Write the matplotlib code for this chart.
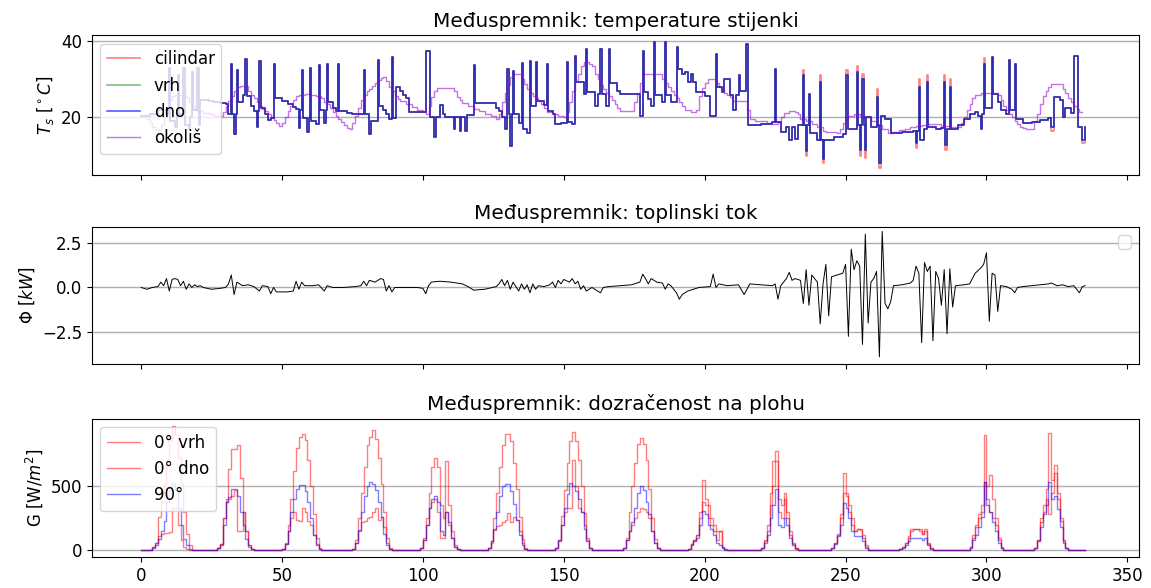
import numpy as np
import matplotlib.pyplot as plt

# --- satni podaci (h) ---
n_hours = 336

# temperatura stijenke dno/vrh: (sat, T) stepenasto, kratki skokovi
t_dno_knots = [
    (0, 20.5), (3, 21), (6, 22), (9, 21), (10, 33), (10.4, 19), (12, 17.5), (12.6, 21), (13, 31),
    (13.4, 21), (15, 33), (15.4, 18), (17, 17), (17.5, 20), (18, 32), (18.4, 22), (20, 33),
    (20.4, 18), (21, 24.5), (24, 24.2), (26, 24), (28, 23.7), (30, 23.4), (31, 21), (31.8, 34),
    (32.2, 21), (33, 15.8), (33.5, 21), (34, 32.3), (34.4, 24), (36, 26), (37, 35.3), (37.4, 25.5),
    (39, 23), (40, 21.8), (41, 17.4), (41.5, 21.8), (42, 34.9), (42.4, 22.5), (44, 21), (45, 19.3),
    (46, 19.8), (47, 34), (47.4, 25), (50, 24.3), (52, 23.5), (54, 22.8), (55, 22.3), (56, 17.2),
    (56.5, 22), (57, 32.3), (57.4, 19.8), (59, 16.3), (59.5, 19.8), (60, 33), (60.4, 19),
    (62, 18.3), (63, 33.6), (63.4, 22), (65, 18.5), (65.5, 22), (66, 34), (66.4, 24), (68, 22.5),
    (69, 21.6), (70, 34), (70.4, 21.6), (73, 21.2), (75, 21), (77, 20.8), (79, 32.3), (79.4, 21),
    (81, 15.8), (81.5, 19), (84, 35), (84.4, 23), (86, 22), (87, 21), (88, 19.5), (89, 35.8),
    (89.4, 19.8), (90.5, 28), (92, 27), (93, 26), (94, 25.1), (95, 21.4), (101, 37.5),
    (102.6, 20.2), (104, 15), (104.6, 20.2), (106, 23.3), (107, 21), (108, 20), (111, 17),
    (111.5, 20), (113, 16.5), (113.5, 20), (115, 16.5), (115.5, 20.6), (118, 33.6), (118.4, 23.9),
    (126, 22.5), (127, 21.7), (128, 20), (129, 17), (130, 32.6), (130.4, 21), (131, 12.5),
    (131.5, 21), (132, 32.2), (132.4, 21), (134, 18.5), (135, 34.3), (135.4, 17), (137, 16),
    (138, 34.7), (138.4, 23), (140, 34.5), (140.4, 24.4), (143, 23.3), (144, 34), (144.4, 21.8),
    (146, 21), (147, 18.3), (149, 18.5), (151, 34.5), (151.4, 18.7), (153, 18.3), (154, 36.2),
    (154.4, 29.4), (157, 26.2), (158, 37.9), (158.4, 26.6), (161, 23), (162, 26.2), (163, 37.9),
    (163.4, 26.2), (165, 23), (166, 37.9), (166.4, 28.9), (169, 27), (170, 26.2), (177, 20.4),
    (178, 37.5), (178.4, 26.6), (180, 24.9), (181, 23), (182, 39.7), (182.4, 25.8), (185, 24),
    (186, 39.7), (186.4, 26), (188, 24), (190, 38.4), (190.4, 32.7), (192, 31.3), (193, 31.9),
    (194, 29.3), (195, 31.5), (196, 29.3), (197, 26.6), (200, 25.5), (202, 20.4), (204, 36.6),
    (204.4, 28), (206, 26.6), (207, 30.1), (209, 26), (210, 22), (211, 26), (212, 31),
    (212.4, 27), (214.5, 39.3), (215.5, 18), (220, 18.2), (224, 18.7), (225, 32.6), (225.4, 18.7),
    (227, 16.1), (229, 17.4), (230, 14), (231, 17.4), (232, 14.5), (233, 18), (235, 31),
    (235.4, 18), (236, 11.2), (236.4, 18), (237, 26.2), (237.4, 16), (240, 14), (241, 29.3),
    (241.4, 14), (242, 9.1), (242.4, 14), (246, 14.8), (249, 15.6), (250, 31), (251, 16.9),
    (254, 32), (254.4, 18), (255, 11.6), (255.4, 18), (256, 30), (256.4, 18), (257, 11.6),
    (257.4, 20), (259, 17.5), (261, 25.3), (261.4, 18), (262, 8.2), (262.4, 20.5), (264, 19.5),
    (266, 16), (270, 16.2), (274, 16.4), (275, 13.2), (275.5, 16.4), (276, 28.1), (276.4, 14),
    (278, 17), (279, 29.4), (279.4, 17.5), (282, 17), (284, 17.2), (285, 29.2), (285.4, 12.7),
    (286, 17), (287, 28.1), (287.4, 17), (290, 18), (292, 19.5), (294, 21), (296, 21.5),
    (297, 20.5), (298, 17), (298.5, 21), (299, 34), (299.4, 22.5), (302, 35.8), (302.4, 26.2),
    (304, 24), (305, 22), (307, 21), (308, 35), (308.4, 22), (310, 34), (310.4, 19.5), (313, 18.5),
    (316, 18.7), (319, 19.3), (322, 19.8), (323, 17.4), (324, 25.3), (326, 24.5), (327, 20),
    (328, 22.5), (330, 21.1), (331, 36.2), (332.5, 17.4), (334, 14), (335, 17.4),
]
# cilindar se razlikuje samo u ekstremima
t_cil_tips = {235: 32.5, 236: 10, 241: 31, 242: 8, 250: 32.5, 254: 33.5, 255: 10, 256: 31.5,
              257: 9.5, 261: 27.5, 262: 6.8, 275: 12, 276: 30, 279: 31, 285: 31, 285.4: 11.5,
              287: 30, 299: 35.5, 323: 16.5, 334: 13.2}

t_okolis_knots = [
    (0, 20.5), (2, 19.5), (3, 18.5), (4, 17.5), (5, 16.8), (6, 16.6), (7, 18), (8, 20), (9, 22.5),
    (10, 24.5), (11, 25.5), (12, 26), (16, 25.3), (17, 24), (18, 23), (19, 22.3), (20, 21.8),
    (22, 21.3), (24, 20.8), (26, 20.3), (28, 20.5), (29, 21.5), (30, 23), (31, 24.4), (32, 25.5),
    (33, 27), (34, 28), (35, 28.3), (38, 27), (39, 26), (40, 25), (41, 24), (42, 23), (43, 22.3),
    (44, 21.8), (45, 20.8), (46, 20), (47, 19.3), (48, 18.5), (49, 17.9), (50, 18.5), (51, 20),
    (52, 21.8), (53, 23), (54, 24.5), (55, 25.5), (56, 26), (58, 26.2), (60, 25.8), (62, 25.5),
    (64, 25.2), (65, 24), (66, 23.5), (67, 22.5), (68, 21.5), (69, 20.5), (70, 19.5), (71, 18.8),
    (72, 18), (73, 17.3), (74, 17), (75, 18.5), (76, 20.5), (77, 22.5), (78, 24.5), (79, 26),
    (80, 26.8), (81, 27.5), (82, 28.3), (83, 29), (84, 29.8), (85, 30.3), (86, 30.7), (87, 29.5),
    (88, 28), (89, 26.8), (90, 25.5), (91, 24.8), (92, 24.4), (94, 23.5), (96, 22.8), (98, 22),
    (100, 21.5), (101, 21), (102, 23), (103, 25.3), (104, 27), (105, 27.8), (111, 27), (112, 25.3),
    (113, 24.5), (114, 23.8), (116, 23), (118, 22.3), (120, 21.8), (122, 21), (124, 20.3),
    (126, 19.6), (127, 21), (128, 24), (129, 26.5), (130, 28.5), (131, 30.5), (132, 31.3),
    (135, 30), (136, 28.8), (137, 27.5), (138, 26.5), (139, 25.5), (140, 25), (141, 24.3),
    (142, 23.5), (143, 22.6), (144, 21.5), (146, 20.9), (148, 20.5), (150, 20), (151, 21.5),
    (152, 24), (153, 27), (154, 29.5), (155, 31.5), (156, 33.5), (157, 34.4), (159, 34),
    (160, 33.5), (161, 31.5), (162, 30), (163, 28.5), (164, 27.5), (165, 26.5), (166, 25.5),
    (167, 24.5), (168, 23.5), (169, 22.6), (170, 21.8), (175, 24), (176, 26.5), (177, 29),
    (178, 31.3), (185, 30), (186, 29), (187, 28), (188, 27), (189, 26), (190, 25), (191, 24),
    (192, 23), (193, 22), (195, 21.5), (197, 22), (198, 25.5), (199, 27.8), (200, 29), (201, 30),
    (204, 29), (205, 28), (206, 27.5), (207, 26.5), (208, 26), (209, 25.3), (210, 24.4),
    (215, 22), (216, 19.6), (218, 19), (222, 18.5), (224, 18.3), (226, 18.8), (227, 20),
    (228, 21.3), (230, 21.8), (232, 21.5), (233, 21), (234, 19.6), (236, 19), (238, 18.3),
    (240, 17.5), (242, 16.5), (243, 16.1), (247, 16), (248, 17), (249, 18.5), (250, 19.5),
    (251, 20.3), (253, 21), (255, 20.5), (257, 20), (259, 19), (261, 18), (263, 17), (265, 16),
    (267, 16.2), (269, 16.6), (271, 17), (273, 17.4), (275, 17.7), (277, 18), (279, 18.4),
    (281, 18.2), (284, 17.8), (287, 17.5), (290, 17.4), (291, 18.5), (292, 20), (293, 22),
    (294, 23.5), (295, 25), (296, 26), (298, 26.3), (300, 26.5), (302, 26.3), (304, 26),
    (305, 24.5), (306, 23), (307, 22), (308, 21), (309, 20), (310, 19), (311, 18.3), (312, 17.6),
    (313, 17.2), (314, 16.9), (317, 19), (318, 21), (319, 23.5), (320, 25.5), (321, 27), (322, 28),
    (323, 28.8), (327, 27.5), (328, 26.4), (329, 25), (330, 24), (331, 23), (332, 22.3),
    (333, 21.5), (334, 21.5),
]

# toplinski tok (sat, kW)
flux_knots = [
    (0, 0), (2, -0.1), (4, 0), (6, 0.05), (7, 0.3), (8, 0.1), (9, 0.5), (10, -0.2), (11, 0.45),
    (12, 0.5), (13, 0.45), (14, 0.1), (15, 0.35), (16, -0.1), (17, 0.2), (18, 0), (19, 0.15),
    (20, 0.05), (21, 0.1), (22, 0), (25, -0.1), (28, -0.05), (30, 0), (31, 0.2), (32, 0.7),
    (33, -0.4), (34, 0.3), (35, 0.2), (36, 0.1), (38, 0.15), (40, 0.05), (42, -0.2), (43, 0.1),
    (45, 0.05), (46, -0.35), (47, 0), (48, -0.25), (52, -0.25), (54, -0.2), (55, 0.35),
    (56, -0.1), (57, 0.3), (58, 0.1), (61, 0.1), (63, 0.15), (65, -0.2), (66, 0.1), (68, 0),
    (72, 0), (76, 0.05), (78, 0.1), (79, 0.35), (80, 0.1), (81, 0.4), (83, 0.3), (85, 0.5),
    (86, 0.45), (87, -0.2), (88, 0.1), (89, -0.25), (90, 0), (94, 0), (98, 0), (100, -0.05),
    (101, -0.35), (102, 0.1), (103, 0.3), (106, 0.35), (110, 0.3), (114, 0.2), (116, 0.05),
    (118, -0.15), (122, -0.1), (126, 0.05), (127, 0.2), (128, 0.45), (129, 0.1), (130, 0.4),
    (131, -0.1), (132, 0.3), (134, -0.2), (135, 0.2), (136, -0.1), (137, 0.15), (138, -0.3),
    (139, 0.2), (140, -0.1), (141, 0.1), (143, 0.05), (145, 0.15), (146, 0.3), (147, 0),
    (148, 0.4), (149, 0.2), (150, 0.45), (152, 0.3), (153, 0.5), (154, 0.2), (155, 0.35),
    (156, -0.1), (157, 0.1), (158, -0.2), (160, 0), (163, -0.3), (164, 0), (166, 0.05),
    (170, 0.1), (174, 0.15), (177, 0.3), (178, 0.75), (179, 0.5), (180, 0.2), (181, 0.5),
    (183, 0.3), (185, 0.25), (186, -0.1), (187, 0.2), (188, 0.1), (190, -0.3), (191, -0.66),
    (192, -0.4), (194, -0.2), (198, 0), (202, 0.05), (203, 0.75), (204, 0), (205, 0.2),
    (208, 0.1), (212, 0.15), (214, -0.4), (215, -0.1), (216, 0.2), (220, 0.15), (224, 0.1),
    (225, 0.2), (226, -0.66), (227, 0.1), (229, 0.5), (230, 0.85), (231, 0.4), (232, 0.5),
    (234, 0.4), (235, -0.9), (236, 1.0), (237, -1.0), (238, 0.7), (239, 0.5), (240, 0.3),
    (241, -2.05), (242, 0.2), (243, 1.3), (244, -1.6), (245, 0.6), (247, 0.7), (249, 0.8),
    (250, 1.3), (251, -2.75), (252, 2.15), (253, 1.0), (254, 1.5), (255, 1.2), (256, -3.2),
    (257, 3.0), (258, -2.0), (259, 0.3), (260, 0.5), (261, 0.9), (262, -3.9), (263, 3.15),
    (264, -0.9), (265, -1.2), (266, -0.8), (267, 0.1), (270, 0.15), (273, 0.25), (274, 0.4),
    (275, 1.2), (276, 0.8), (277, -3.1), (278, 1.4), (279, 0.9), (280, 1.2), (281, -3.0),
    (282, 0.9), (283, 0.5), (284, -1.0), (285, 1.0), (286, -2.6), (287, 1.05), (288, -1.1),
    (289, 0.1), (292, 0.15), (294, 0.2), (296, 0.8), (298, 1.1), (299, 1.3), (300, 1.95),
    (301, -1.9), (302, 0.8), (303, 0.7), (304, -1.35), (305, 0.1), (307, 0.05), (309, -0.1),
    (310, -0.3), (311, 0), (313, 0.05), (316, 0.1), (319, 0.15), (322, 0.2), (323, 0.25),
    (325, 0.1), (327, 0.15), (329, 0.05), (331, 0.1), (333, -0.3), (334, 0.05), (335, 0.1),
]

# dozracenost po danima (W/m2), satne vrijednosti od day_start
day_start = [3, 26, 49, 74, 98, 122, 146, 170, 193, 219, 244, 268, 293, 316]
g_vrh_days = [
    [0, 30, 60, 260, 380, 520, 700, 850, 970, 900, 720, 520, 300, 130, 40, 0],
    [0, 20, 50, 250, 400, 630, 790, 790, 820, 560, 300, 150, 40, 10, 0, 0],
    [0, 10, 60, 200, 400, 620, 800, 880, 909, 860, 700, 500, 280, 100, 20, 0],
    [0, 10, 80, 250, 450, 650, 820, 880, 935, 870, 720, 520, 300, 100, 20, 0],
    [0, 20, 100, 250, 450, 650, 721, 650, 350, 250, 695, 350, 150, 40, 10, 0],
    [0, 20, 70, 250, 450, 650, 820, 909, 909, 850, 680, 480, 260, 90, 20, 0],
    [0, 20, 80, 270, 470, 680, 850, 924, 850, 700, 500, 290, 100, 20, 0, 0],
    [0, 20, 100, 300, 500, 680, 825, 877, 825, 700, 480, 250, 90, 20, 0, 0],
    [0, 10, 50, 80, 120, 300, 550, 400, 350, 250, 200, 150, 150, 30, 10, 0],
    [0, 20, 80, 200, 450, 694, 773, 400, 350, 445, 300, 150, 60, 20, 0, 0],
    [0, 20, 60, 130, 280, 603, 450, 350, 250, 150, 170, 170, 120, 40, 0, 0],
    [0, 10, 30, 60, 110, 170, 170, 170, 170, 130, 170, 60, 20, 0, 0, 0],
    [0, 30, 120, 200, 280, 350, 899, 500, 590, 400, 250, 100, 30, 0, 0, 0],
    [0, 20, 80, 250, 350, 480, 912, 550, 668, 450, 250, 80, 20, 0, 0, 0],
]
g_dno_days = [
    [0, 30, 60, 110, 130, 135, 135, 140, 330, 330, 200, 80, 30, 10, 0, 0],
    [0, 20, 50, 250, 380, 400, 420, 470, 150, 150, 300, 150, 40, 10, 0, 0],
    [0, 10, 50, 150, 250, 300, 240, 230, 330, 300, 230, 200, 120, 50, 10, 0],
    [0, 10, 60, 150, 220, 230, 250, 260, 300, 330, 240, 260, 180, 60, 10, 0],
    [0, 20, 80, 200, 330, 380, 400, 300, 96, 96, 300, 200, 100, 30, 10, 0],
    [0, 20, 60, 160, 190, 200, 220, 240, 290, 220, 260, 240, 150, 60, 10, 0],
    [0, 20, 70, 200, 300, 330, 330, 700, 500, 330, 300, 200, 80, 20, 0, 0],
    [0, 20, 80, 150, 200, 250, 300, 327, 320, 300, 250, 150, 60, 20, 0, 0],
    [0, 10, 50, 80, 120, 250, 380, 350, 250, 200, 150, 80, 150, 30, 10, 0],
    [0, 20, 70, 150, 350, 500, 694, 300, 250, 400, 250, 120, 50, 20, 0, 0],
    [0, 20, 60, 120, 250, 450, 420, 300, 200, 150, 170, 160, 100, 30, 0, 0],
    [0, 10, 30, 60, 100, 150, 170, 170, 150, 130, 150, 50, 20, 0, 0, 0],
    [0, 30, 100, 180, 250, 300, 532, 400, 300, 250, 200, 80, 20, 0, 0, 0],
    [0, 20, 80, 220, 300, 400, 280, 450, 600, 400, 230, 70, 20, 0, 0, 0],
]
g_90_days = [
    [0, 20, 40, 90, 150, 230, 380, 470, 525, 470, 330, 200, 90, 40, 10, 0],
    [0, 20, 40, 200, 380, 414, 474, 474, 422, 300, 200, 90, 30, 10, 0, 0],
    [0, 10, 50, 150, 300, 400, 480, 508, 508, 460, 380, 250, 120, 40, 10, 0],
    [0, 10, 60, 160, 300, 420, 500, 534, 520, 470, 380, 260, 130, 40, 10, 0],
    [0, 20, 80, 200, 330, 400, 422, 380, 150, 120, 300, 220, 100, 30, 10, 0],
    [0, 20, 70, 170, 300, 420, 500, 518, 518, 460, 360, 240, 120, 40, 10, 0],
    [0, 20, 80, 200, 330, 440, 526, 500, 460, 400, 300, 170, 70, 20, 0, 0],
    [0, 20, 80, 150, 220, 330, 450, 500, 470, 380, 280, 150, 60, 20, 0, 0],
    [0, 10, 40, 70, 100, 200, 309, 280, 200, 170, 120, 60, 40, 20, 5, 0],
    [0, 20, 60, 120, 250, 350, 479, 200, 180, 249, 200, 100, 40, 10, 0, 0],
    [0, 20, 50, 110, 200, 367, 330, 250, 150, 110, 110, 110, 70, 20, 0, 0],
    [0, 10, 20, 40, 70, 97, 97, 97, 97, 80, 97, 40, 10, 0, 0, 0],
    [0, 20, 80, 120, 180, 260, 532, 350, 300, 220, 150, 60, 20, 0, 0, 0],
    [0, 20, 70, 180, 280, 350, 532, 400, 420, 320, 180, 60, 15, 0, 0, 0],
]


def fill_days(days):
    g = np.zeros(n_hours)
    for start, vals in zip(day_start, days):
        g[start:start + len(vals)] = vals
    return g


plt.rcParams['font.size'] = 12

t_h, t_dno = zip(*t_dno_knots)
t_cil = [t_cil_tips.get(h, v) for h, v in t_dno_knots]
ok_h, t_ok = zip(*t_okolis_knots)
f_h, flux = zip(*flux_knots)
hours = np.arange(n_hours)

fig = plt.figure(figsize=(11.51, 5.88), dpi=100)
ax1 = fig.add_axes([0.080, 0.702, 0.910, 0.238])
ax2 = fig.add_axes([0.080, 0.381, 0.910, 0.233], sharex=ax1)
ax3 = fig.add_axes([0.080, 0.053, 0.910, 0.235], sharex=ax1)

ax1.step(t_h, t_cil, where='post', color='r', alpha=0.5, lw=1.2, label='cilindar')
ax1.step(t_h, t_dno, where='post', color='g', alpha=0.5, lw=1.2, label='vrh')
ax1.step(t_h, t_dno, where='post', color='b', alpha=0.65, lw=1.2, label='dno')
ax1.step(ok_h, t_ok, where='post', color='darkviolet', alpha=0.55, lw=1, label='okoliš')
ax1.set_title('Međuspremnik: temperature stijenki')
ax1.set_ylabel(r'$T_s$ [$^\circ C$]')
ax1.set_ylim(4.9, 41.5)
ax1.set_yticks([20, 40])
ax1.legend(loc='upper left')

ax2.plot(f_h, flux, color='k', lw=0.7)
ax2.set_title('Međuspremnik: toplinski tok')
ax2.set_ylabel(r'$\Phi$ [$kW$]')
ax2.set_ylim(-4.3, 3.4)
ax2.set_yticks([-2.5, 0.0, 2.5])
ax2.legend(handles=[], loc='upper right')

ax3.step(hours, fill_days(g_vrh_days), where='post', color='r', alpha=0.5, lw=1, label='0° vrh')
ax3.step(hours, fill_days(g_dno_days), where='post', color='r', alpha=0.5, lw=1, label='0° dno')
ax3.step(hours, fill_days(g_90_days), where='post', color='b', alpha=0.5, lw=1, label='90°')
ax3.set_title('Međuspremnik: dozračenost na plohu')
ax3.set_ylabel(r'G [W/$m^2$]')
ax3.set_ylim(-50, 1025)
ax3.set_yticks([0, 500])
ax3.legend(loc='upper left')

for ax in (ax1, ax2, ax3):
    ax.grid(axis='y', lw=1)
ax1.set_xlim(-17.4, 354.3)
ax1.set_xticks(range(0, 351, 50))
ax1.tick_params(labelbottom=False)
ax2.tick_params(labelbottom=False)

fig.savefig('out.png', dpi=100)
